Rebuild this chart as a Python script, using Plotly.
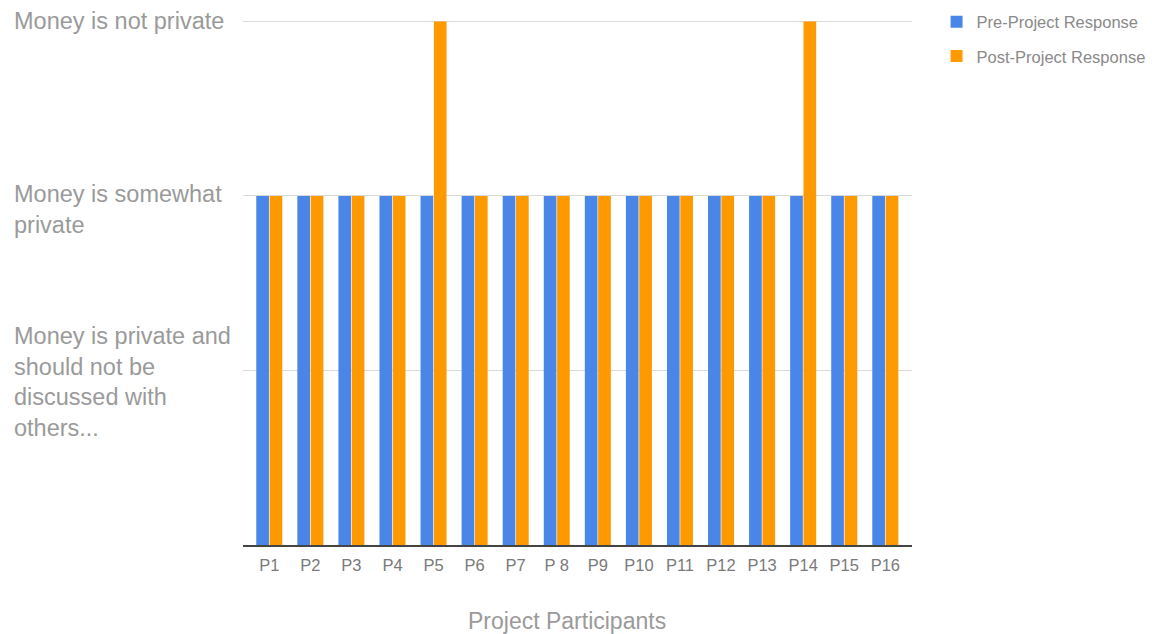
import plotly.graph_objects as go

# Participants and their survey responses (1 = private, 2 = somewhat private, 3 = not private)
participants = ["P1", "P2", "P3", "P4", "P5", "P6", "P7", "P 8", "P9", "P10",
                "P11", "P12", "P13", "P14", "P15", "P16"]
pre_response = [2, 2, 2, 2, 2, 2, 2, 2, 2, 2, 2, 2, 2, 2, 2, 2]
post_response = [2, 2, 2, 2, 3, 2, 2, 2, 2, 2, 2, 2, 2, 3, 2, 2]

# Response scale labels
level_values = [1, 2, 3]
level_labels = [
    "Money is private and<br>should not be<br>discussed with<br>others...",
    "Money is somewhat<br>private",
    "Money is not private",
]
level_shift = [-11, -14, 0]
x_title = "Project Participants"

BLUE = "#4a86e8"
ORANGE = "#ff9900"
GRAY = "#9a9a9a"

fig = go.Figure()
fig.add_trace(go.Bar(x=participants, y=pre_response, name="Pre-Project Response",
                     marker=dict(color=BLUE, line=dict(width=0)), legendgroup="a"))
fig.add_trace(go.Bar(x=participants, y=post_response, name="Post-Project Response",
                     marker=dict(color=ORANGE, line=dict(width=0)), legendgroup="b"))

for val, lab, sh in zip(level_values, level_labels, level_shift):
    fig.add_annotation(x=-0.345, xref="paper", y=val, yref="y", text=lab,
                       showarrow=False, xanchor="left", yanchor="middle", align="left",
                       yshift=sh, font=dict(family="Liberation Sans, Arial", size=23.5, color=GRAY))

# x-axis title, set slightly left of the plot centre
fig.add_annotation(x=0.5, xref="paper", y=-0.145, yref="paper", text=x_title,
                   showarrow=False, xanchor="center", yanchor="middle", xshift=-11,
                   font=dict(family="Liberation Sans, Arial", size=23, color=GRAY))

fig.update_layout(
    width=1152, height=634,
    margin=dict(l=243, r=240, t=18, b=89),
    plot_bgcolor="white", paper_bgcolor="white",
    barmode="group", bargap=0.35, bargroupgap=0.05,
    font=dict(family="Liberation Sans, Arial", color=GRAY),
    legend=dict(xref="container", yref="container", x=0.813, y=0.993,
                xanchor="left", yanchor="top",
                font=dict(size=16.5, color="#8a8a8a"), tracegroupgap=10,
                itemwidth=30, bgcolor="rgba(0,0,0,0)"),
    xaxis=dict(range=[-0.64, 15.65], showline=True, linecolor="#444", linewidth=2,
               showgrid=False, ticks="", ticklabelstandoff=4, automargin=False,
               tickfont=dict(size=16.5, color="#7a7a7a")),
    yaxis=dict(range=[0, 3.02], tickvals=level_values, showticklabels=False,
               showgrid=True, gridcolor="#d9d9d9", gridwidth=1, zeroline=False,
               showline=False, ticks="", automargin=False),
)

fig.write_html("out.html")
